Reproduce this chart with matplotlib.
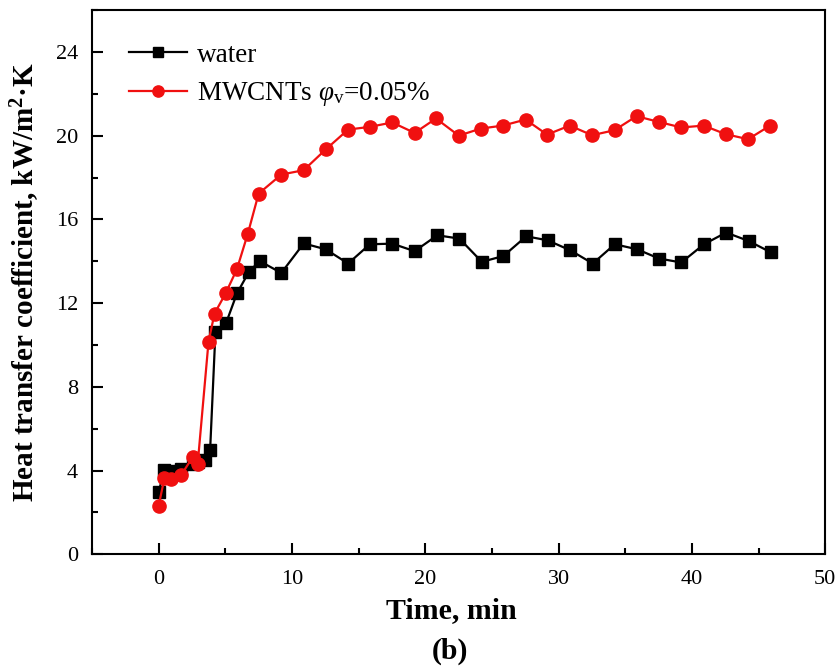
import matplotlib
matplotlib.use("Agg")
import matplotlib.pyplot as plt
from matplotlib.ticker import MultipleLocator

plt.rcParams['font.family'] = ['Liberation Serif', 'DejaVu Serif']
plt.rcParams['mathtext.fontset'] = 'custom'
plt.rcParams['mathtext.rm'] = 'Liberation Serif'
plt.rcParams['mathtext.it'] = 'Liberation Serif:italic'
plt.rcParams['mathtext.bf'] = 'Liberation Serif:bold'

# Data (time in min, heat transfer coefficient in kW/m2K)
water_t = [0, 0.43, 0.93, 1.68, 2.56, 2.93, 3.5, 3.86, 4.26, 5.06, 5.87, 6.77, 7.57, 9.2,
           10.88, 12.53, 14.21, 15.84, 17.52, 19.2, 20.9, 22.56, 24.24, 25.86, 27.57,
           29.17, 30.88, 32.56, 34.21, 35.89, 37.52, 39.2, 40.9, 42.56, 44.24, 45.9]
water_h = [2.98, 4.01, 3.97, 4.09, 4.3, 4.4, 4.52, 4.97, 10.62, 11.05, 12.46, 13.49, 14.01, 13.44,
           14.85, 14.57, 13.89, 14.81, 14.84, 14.48, 15.24, 15.08, 13.97, 14.25, 15.19,
           15.0, 14.52, 13.89, 14.81, 14.57, 14.13, 13.94, 14.81, 15.37, 14.97, 14.43]

mw_t = [0, 0.43, 0.93, 1.68, 2.56, 2.93, 3.74, 4.19, 5.02, 5.87, 6.69, 7.5, 9.2,
        10.88, 12.53, 14.21, 15.84, 17.52, 19.2, 20.8, 22.51, 24.17, 25.82, 27.52,
        29.13, 30.83, 32.51, 34.19, 35.84, 37.55, 39.2, 40.88, 42.53, 44.21, 45.86]
mw_h = [2.32, 3.62, 3.58, 3.77, 4.65, 4.33, 10.15, 11.5, 12.46, 13.62, 15.32, 17.23, 18.14,
        18.35, 19.34, 20.29, 20.42, 20.63, 20.13, 20.82, 20.0, 20.34, 20.48, 20.77,
        20.05, 20.48, 20.02, 20.26, 20.93, 20.65, 20.39, 20.48, 20.07, 19.83, 20.48]

fig = plt.figure(figsize=(8.4, 6.71), dpi=100)
ax = fig.add_axes([0.1095, 0.174, 0.873, 0.811])

ax.plot(water_t, water_h, color='black', marker='s', markersize=8, linewidth=1.6,
        label='water', zorder=3)
ax.plot(mw_t, mw_h, color='#f01010', marker='o', markersize=9.5, linewidth=1.6,
        label=r'MWCNTs $\varphi_{\rm v}$=0.05%', zorder=3)

ax.set_xlim(-5, 50)
ax.set_ylim(0, 26)
ax.xaxis.set_minor_locator(MultipleLocator(5))
ax.yaxis.set_minor_locator(MultipleLocator(2))
ax.set_xticks([0, 10, 20, 30, 40, 50])
ax.set_yticks([0, 4, 8, 12, 16, 20, 24])
ax.tick_params(which='major', direction='in', length=8, width=1.5, labelsize=16,
               top=False, right=False)
ax.tick_params(which='minor', direction='in', length=4.5, width=1.5, top=False, right=False)
ax.tick_params(axis='x', pad=11)
ax.tick_params(axis='y', pad=10)
for s in ax.spines.values():
    s.set_linewidth(1.5)

ax.set_xlabel('Time, min', fontsize=21.5, fontweight='bold')
ax.xaxis.set_label_coords(0.49, -0.078)
ax.set_ylabel(r'Heat transfer coefficient, kW/m$^{\mathbf{2}}$·K', fontsize=21,
              fontweight='bold')
ax.yaxis.set_label_coords(-0.068, 0.5)

leg = ax.legend(loc='upper left', frameon=False, fontsize=19.5, handlelength=2.15,
                handletextpad=0.37, bbox_to_anchor=(0.017, 0.985), labelspacing=0.47,
                markerscale=0.85)

fig.text(0.536, 0.018, '(b)', fontsize=21.5, fontweight='bold', ha='center')

fig.savefig('out.png', dpi=100)
